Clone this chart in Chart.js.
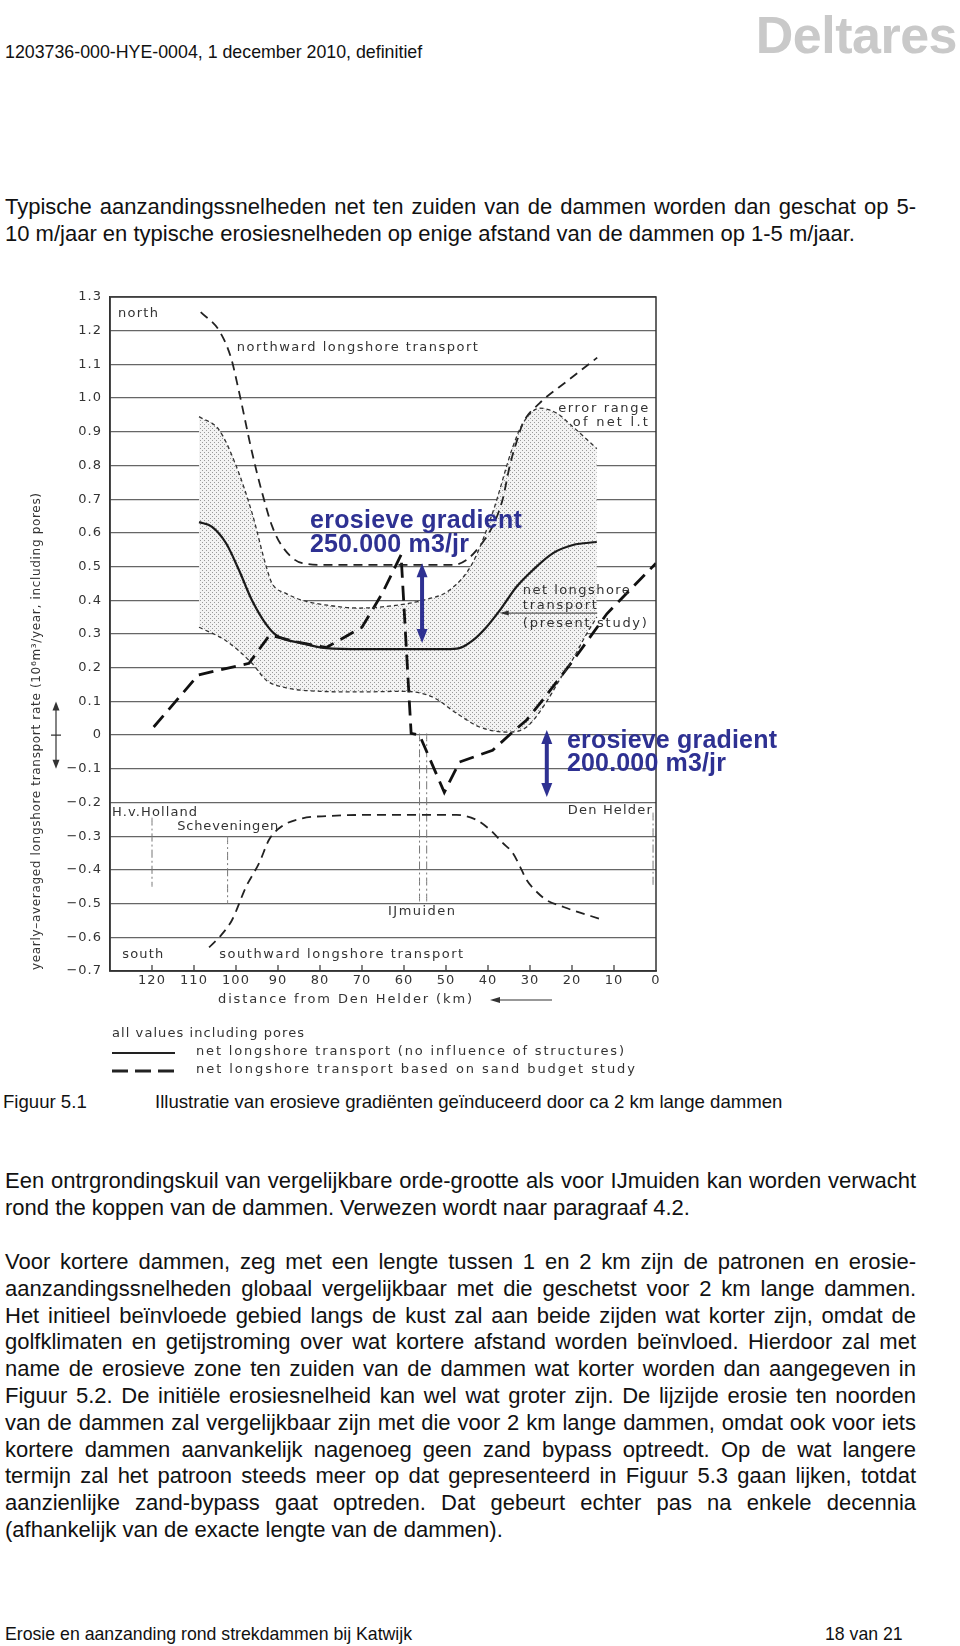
<!DOCTYPE html>
<html>
<head>
<meta charset="utf-8">
<script src="https://cdn.jsdelivr.net/npm/chart.js@4.4.0/dist/chart.umd.min.js"></script>
<style>
body{margin:0;background:#fff;width:960px;height:1646px;position:relative;overflow:hidden;font-family:"Liberation Sans",Arial,sans-serif;color:#111}
.t{position:absolute;white-space:nowrap}
.small{font-size:17.8px;line-height:22px}
.logo{position:absolute;right:3px;top:9px;font-size:52px;line-height:52px;font-weight:bold;color:#c9c9c9;letter-spacing:-0.5px}
.p{position:absolute;left:5px;font-size:22px;line-height:26.8px}
.p div{width:911px}
.j{text-align:justify;text-align-last:justify}
#wrap{position:absolute;left:0;top:280px;width:800px;height:810px}
</style>
</head>
<body>
<div class="t small" style="left:5px;top:41px">1203736-000-HYE-0004, 1 december 2010, definitief</div>
<div class="logo">Deltares</div>

<div class="p" style="top:194px">
<div class="j">Typische aanzandingssnelheden net ten zuiden van de dammen worden dan geschat op 5-</div>
<div>10 m/jaar en typische erosiesnelheden op enige afstand van de dammen op 1-5 m/jaar.</div>
</div>

<div id="wrap"><canvas id="chart" width="800" height="810" style="width:800px;height:810px"></canvas></div>

<div class="t small" style="left:3px;top:1091px;font-size:18.6px">Figuur 5.1</div>
<div class="t small" style="left:155px;top:1091px;font-size:18.6px">Illustratie van erosieve gradiënten geïnduceerd door ca 2 km lange dammen</div>

<div class="p" style="top:1168px">
<div class="j">Een ontrgrondingskuil van vergelijkbare orde-grootte als voor IJmuiden kan worden verwacht</div>
<div>rond the koppen van de dammen. Verwezen wordt naar paragraaf 4.2.</div>
</div>

<div class="p" style="top:1249px">
<div class="j">Voor kortere dammen, zeg met een lengte tussen 1 en 2 km zijn de patronen en erosie-</div>
<div class="j">aanzandingssnelheden globaal vergelijkbaar met die geschetst voor 2 km lange dammen.</div>
<div class="j">Het initieel beïnvloede gebied langs de kust zal aan beide zijden wat korter zijn, omdat de</div>
<div class="j">golfklimaten en getijstroming over wat kortere afstand worden beïnvloed. Hierdoor zal met</div>
<div class="j">name de erosieve zone ten zuiden van de dammen wat korter worden dan aangegeven in</div>
<div class="j">Figuur 5.2. De initiële erosiesnelheid kan wel wat groter zijn. De lijzijde erosie ten noorden</div>
<div class="j">van de dammen zal vergelijkbaar zijn met die voor 2 km lange dammen, omdat ook voor iets</div>
<div class="j">kortere dammen aanvankelijk nagenoeg geen zand bypass optreedt. Op de wat langere</div>
<div class="j">termijn zal het patroon steeds meer op dat gepresenteerd in Figuur 5.3 gaan lijken, totdat</div>
<div class="j">aanzienlijke zand-bypass gaat optreden. Dat gebeurt echter pas na enkele decennia</div>
<div>(afhankelijk van de exacte lengte van de dammen).</div>
</div>

<div class="t small" style="left:5px;top:1623px;font-size:17.7px">Erosie en aanzanding rond strekdammen bij Katwijk</div>
<div class="t small" style="left:825px;top:1623px;font-size:17.7px">18 van 21</div>

<script>
// distance from Den Helder (km) against yearly transport rate (10^6 m3/year)
const kmTicks = [120, 110, 100, 90, 80, 70, 60, 50, 40, 30, 20, 10, 0];
const rateMin = -0.7;
const rateMax = 1.3;

// net longshore transport, no influence of structures (solid)
const solidKm   = [108.8, 105.7, 102.4, 99.3, 96.2, 92.9, 90.5, 84.2, 78.5, 70, 60, 50, 46.8, 43.7, 40.4, 37.2, 33.2, 29.3, 24.5, 19.8, 14.1];
const solidRate = [0.632, 0.618, 0.57, 0.49, 0.40, 0.33, 0.297, 0.272, 0.258, 0.255, 0.255, 0.255, 0.258, 0.28, 0.32, 0.37, 0.44, 0.49, 0.54, 0.564, 0.573];

// net longshore transport from sand budget study (long dashes)
const sandKm   = [119.6, 109, 104, 96.9, 92, 85, 78.5, 70, 65.2, 60.7, 58.3, 56.3, 50.4, 46.8, 38.9, 34.4, 30.8, 27, 19.8, 11.7, 0];
const sandRate = [0.024, 0.178, 0.193, 0.213, 0.297, 0.275, 0.26, 0.32, 0.42, 0.535, 0.005, 0.0, -0.17, -0.08, -0.045, 0.006, 0.045, 0.104, 0.22, 0.36, 0.51];

// northward and southward longshore transport
const northKm   = [108.4, 104, 101.2, 99.3, 96.2, 93.8, 91.4, 89, 84.2, 78, 70, 60, 48.4, 45.1, 42, 38.9, 36.5, 34.8, 33.2, 31.7, 27.7, 21.2, 14];
const northRate = [1.255, 1.20, 1.12, 1.02, 0.84, 0.72, 0.62, 0.56, 0.51, 0.505, 0.505, 0.505, 0.505, 0.52, 0.56, 0.62, 0.70, 0.80, 0.87, 0.925, 0.985, 1.05, 1.12];
const southKm   = [106.4, 104, 101, 97.6, 94.5, 92.1, 89, 84.2, 78, 70, 60, 47.5, 43, 39.6, 36.5, 34.1, 32, 30.8, 28, 26, 22, 19.8, 13.4];
const southRate = [-0.63, -0.60, -0.55, -0.45, -0.38, -0.31, -0.27, -0.247, -0.24, -0.237, -0.237, -0.237, -0.25, -0.28, -0.32, -0.35, -0.40, -0.43, -0.47, -0.49, -0.51, -0.52, -0.545];

// error range of net longshore transport
const upperKm   = [108.8, 104, 100, 96.2, 92.8, 91.4, 88, 84.2, 78, 70.6, 62, 55.6, 49.2, 43.7, 38.9, 34.1, 31.7, 27.7, 23.6, 19.8, 14.1];
const upperRate = [0.945, 0.905, 0.80, 0.66, 0.50, 0.45, 0.42, 0.40, 0.385, 0.377, 0.385, 0.40, 0.43, 0.51, 0.66, 0.855, 0.925, 0.97, 0.955, 0.915, 0.85];
const lowerKm   = [108.8, 102.4, 96.2, 92.8, 88, 80, 70.6, 60, 53.2, 47.5, 42, 35.6, 30.8, 26, 22.9, 19.8, 17, 14.1];
const lowerRate = [0.32, 0.28, 0.213, 0.163, 0.14, 0.13, 0.128, 0.13, 0.113, 0.065, 0.024, 0.009, 0.024, 0.10, 0.165, 0.225, 0.29, 0.35];

// harbour locations (dash-dot verticals)
const placeKm     = [120, 102, 56.3, 54.6, 0.7];
const placeTop    = [-0.245, -0.30, 0.005, 0.005, -0.23];
const placeBottom = [-0.45, -0.50, -0.495, -0.495, -0.445];

// erosive gradients (blue arrows)
const gradText   = ['250.000 m3/jr', '200.000 m3/jr'];
const gradKm     = [55.7, 26];
const gradTop    = [0.51, 0.015];
const gradBottom = [0.273, -0.184];

const cad = '"DejaVu Sans", sans-serif';
const blue = '#2e3192';

function pts(xs, ys) {
    return xs.map((x, i) => ({ x: x, y: ys[i] }));
}

function fmtRate(v) {
    const r = Math.round(v * 10) / 10;
    if (r === 0) return '0';
    return (r < 0 ? '\u2212' : '') + Math.abs(r).toFixed(1);
}

// stippled fill for the error range
const tile = document.createElement('canvas');
tile.width = 4; tile.height = 4;
const tc = tile.getContext('2d');
tc.fillStyle = '#f3f3f3'; tc.fillRect(0, 0, 4, 4);
tc.fillStyle = '#9a9a9a'; tc.fillRect(0, 0, 1, 1); tc.fillRect(2, 2, 1, 1);
const stipple = tc.createPattern(tile, 'repeat');

function fitText(ctx, s, x, y, w) {
    ctx.letterSpacing = '0px';
    const n = Array.from(s).length;
    const m = ctx.measureText(s).width;
    const sp = (w - m) / Math.max(n - 1, 1);
    ctx.letterSpacing = sp + 'px';
    ctx.textAlign = 'left';
    ctx.fillText(s, x, y);
    ctx.letterSpacing = '0px';
}

function head(ctx, x, y, ang, len, wid) {
    ctx.save();
    ctx.translate(x, y);
    ctx.rotate(ang);
    ctx.beginPath();
    ctx.moveTo(0, 0);
    ctx.lineTo(-len, -wid / 2);
    ctx.lineTo(-len, wid / 2);
    ctx.closePath();
    ctx.fill();
    ctx.restore();
}

const notes = [
    ['north', 128.1, 1.252, 40],
    ['northward longshore transport', 99.8, 1.151, 241],
    ['error range', 23.3, 0.970, 90],
    ['of net l.t', 19.8, 0.926, 75],
    ['net longshore', 31.7, 0.430, 107],
    ['transport', 31.7, 0.383, 74],
    ['(present study)', 31.7, 0.332, 124],
    ['H.v.Holland', 129.5, -0.231, 85],
    ['Scheveningen', 114.0, -0.273, 101],
    ['IJmuiden', 63.8, -0.525, 67],
    ['Den Helder', 21.0, -0.223, 84],
    ['south', 127.1, -0.650, 41],
    ['southward longshore transport', 104.0, -0.650, 244]
];

const decor = {
    id: 'decor',
    beforeDraw(chart) {
        chart.ctx.letterSpacing = '1px';
    },
    afterDraw(chart) {
        const ctx = chart.ctx;
        const xs = chart.scales.x, ys = chart.scales.y;
        const a = chart.chartArea;
        ctx.save();
        ctx.letterSpacing = '0px';

        // frame and inner ticks
        ctx.strokeStyle = '#333';
        ctx.lineWidth = 1.5;
        ctx.strokeRect(a.left, a.top, a.right - a.left, a.bottom - a.top);
        ctx.lineWidth = 1.2;
        kmTicks.forEach(k => {
            if (k === 0) return;
            const px = xs.getPixelForValue(k);
            ctx.beginPath();
            ctx.moveTo(px, a.bottom);
            ctx.lineTo(px, a.bottom - 6);
            ctx.stroke();
        });

        // text in the plot
        ctx.fillStyle = '#333';
        ctx.font = '13px ' + cad;
        ctx.textBaseline = 'middle';
        notes.forEach(n => {
            fitText(ctx, n[0], xs.getPixelForValue(n[1]), ys.getPixelForValue(n[2]), n[3]);
        });

        // pointer to the net longshore transport curve
        const py = ys.getPixelForValue(0.362);
        ctx.strokeStyle = '#333';
        ctx.lineWidth = 1;
        ctx.beginPath();
        ctx.moveTo(xs.getPixelForValue(14), py);
        ctx.lineTo(xs.getPixelForValue(36.5), py);
        ctx.stroke();
        head(ctx, xs.getPixelForValue(37.2), py, Math.PI, 9, 5);

        // erosive gradient arrows and labels
        ctx.strokeStyle = blue;
        ctx.fillStyle = blue;
        ctx.lineWidth = 4;
        gradKm.forEach((k, i) => {
            const px = xs.getPixelForValue(k);
            const t = ys.getPixelForValue(gradTop[i]);
            const b = ys.getPixelForValue(gradBottom[i]);
            ctx.beginPath();
            ctx.moveTo(px, t + 10);
            ctx.lineTo(px, b - 10);
            ctx.stroke();
            head(ctx, px, t, -Math.PI / 2, 14, 11);
            head(ctx, px, b, Math.PI / 2, 14, 11);
        });
        ctx.font = 'bold 25px "Liberation Sans", Arial, sans-serif';
        ctx.textBaseline = 'alphabetic';
        fitText(ctx, 'erosieve gradient', xs.getPixelForValue(82.4), ys.getPixelForValue(0.614), 212);
        fitText(ctx, gradText[0], xs.getPixelForValue(82.4), ys.getPixelForValue(0.543), 159);
        fitText(ctx, 'erosieve gradient', xs.getPixelForValue(21.2), ys.getPixelForValue(-0.039), 210);
        fitText(ctx, gradText[1], xs.getPixelForValue(21.2), ys.getPixelForValue(-0.107), 159);

        // y axis title with the direction arrow
        ctx.fillStyle = '#333';
        ctx.strokeStyle = '#333';
        ctx.font = '12px ' + cad;
        ctx.textBaseline = 'middle';
        ctx.save();
        ctx.translate(37, 690);
        ctx.rotate(-Math.PI / 2);
        fitText(ctx, 'yearly\u2013averaged longshore transport rate (10\u2076m\u00b3/year, including pores)', 0, 0, 477);
        ctx.restore();
        const ya = ys.getPixelForValue(0.1), yb = ys.getPixelForValue(-0.1), y0 = ys.getPixelForValue(0);
        ctx.lineWidth = 1.2;
        ctx.beginPath();
        ctx.moveTo(56, ya + 6); ctx.lineTo(56, yb - 6);
        ctx.moveTo(51, y0); ctx.lineTo(61, y0);
        ctx.stroke();
        head(ctx, 56, ya, -Math.PI / 2, 9, 7);
        head(ctx, 56, yb, Math.PI / 2, 9, 7);

        // x axis title
        ctx.font = '13px ' + cad;
        fitText(ctx, 'distance from Den Helder (km)', 218, 720, 254);
        ctx.beginPath();
        ctx.moveTo(498, 720); ctx.lineTo(552, 720);
        ctx.stroke();
        head(ctx, 490, 720, Math.PI, 10, 6);

        // legend under the chart
        fitText(ctx, 'all values including pores', 112, 754, 192);
        fitText(ctx, 'net longshore transport (no influence of structures)', 196, 772, 428);
        fitText(ctx, 'net longshore transport based on sand budget study', 196, 790, 439);
        ctx.strokeStyle = '#222';
        ctx.lineWidth = 2;
        ctx.beginPath(); ctx.moveTo(112, 773); ctx.lineTo(175, 773); ctx.stroke();
        ctx.lineWidth = 3;
        ctx.setLineDash([16, 7]);
        ctx.beginPath(); ctx.moveTo(112, 791); ctx.lineTo(176, 791); ctx.stroke();
        ctx.restore();
    }
};

const line = (data, color, width, dash, extra) => Object.assign({
    data: data,
    borderColor: color,
    borderWidth: width,
    borderDash: dash,
    pointRadius: 0,
    fill: false
}, extra || {});

const datasets = [
    line(pts(upperKm, upperRate), '#333', 1.3, [4, 3], { fill: '+1', backgroundColor: stipple }),
    line(pts(lowerKm, lowerRate), '#333', 1.3, [4, 3]),
    line(pts(solidKm, solidRate), '#1a1a1a', 2.2, []),
    line(pts(northKm, northRate), '#222', 1.8, [9, 6]),
    line(pts(southKm, southRate), '#222', 1.8, [9, 6]),
    line(pts(sandKm, sandRate), '#111', 2.8, [15, 8], { tension: 0, cubicInterpolationMode: 'default' })
];
placeKm.forEach((k, i) => {
    datasets.push(line([{ x: k, y: placeTop[i] }, { x: k, y: placeBottom[i] }], '#777', 1, [8, 3, 2, 3]));
});

new Chart(document.getElementById('chart'), {
    type: 'line',
    data: { datasets: datasets },
    options: {
        responsive: false,
        animation: false,
        elements: { line: { cubicInterpolationMode: 'monotone' } },
        layout: { padding: { top: 17, right: 144, left: 0, bottom: 0 } },
        plugins: {
            legend: { display: false },
            tooltip: { enabled: false },
            filler: { drawTime: 'beforeDatasetsDraw' }
        },
        scales: {
            x: {
                type: 'linear',
                reverse: true,
                min: 0,
                max: 130,
                afterFit: s => { s.height = 119; },
                grid: { display: false, drawTicks: false },
                border: { display: true, color: '#333', width: 1.5 },
                ticks: {
                    stepSize: 10,
                    autoSkip: false,
                    maxRotation: 0,
                    padding: 2,
                    color: '#333',
                    font: { family: cad, size: 13 },
                    callback: v => kmTicks.includes(v) ? String(v) : ''
                }
            },
            y: {
                min: rateMin,
                max: rateMax,
                afterFit: s => { s.width = 110; },
                grid: { color: '#666', lineWidth: 1.3, drawTicks: false },
                border: { display: true, color: '#333', width: 1.5 },
                ticks: {
                    stepSize: 0.1,
                    padding: 8,
                    color: '#333',
                    font: { family: cad, size: 13 },
                    callback: fmtRate
                }
            }
        }
    },
    plugins: [decor]
});
</script>
</body>
</html>
